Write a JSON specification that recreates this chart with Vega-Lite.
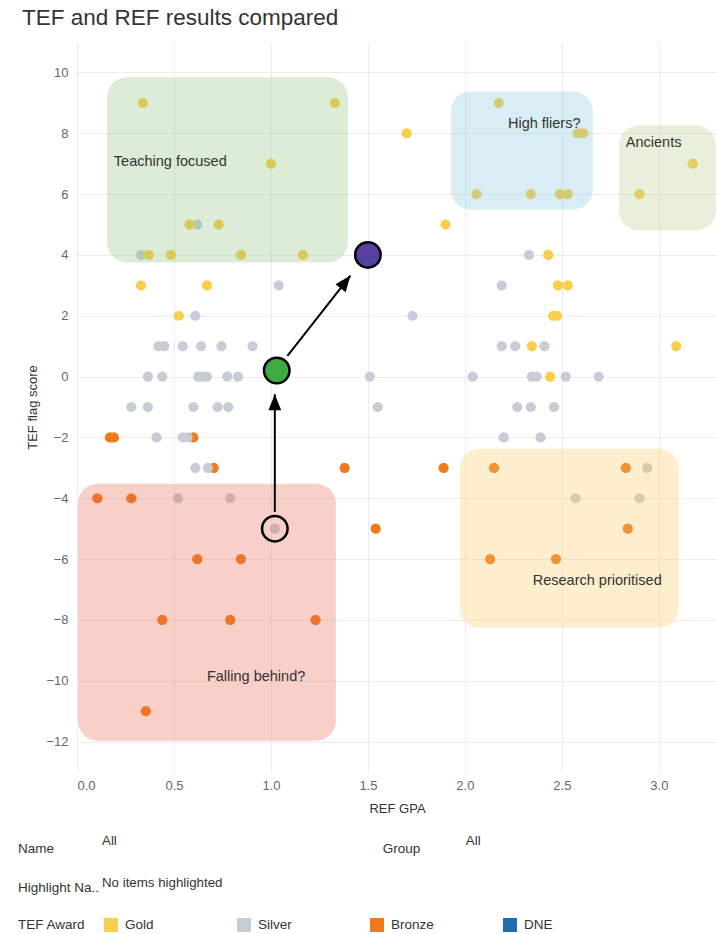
{
  "$schema": "https://vega.github.io/schema/vega-lite/v6.json",
  "width": 640,
  "height": 730,
  "padding": {"left": 18, "top": 6, "right": 0, "bottom": 0},
  "background": "white",
  "title": {"text": "TEF and REF results compared", "anchor": "start", "frame": "bounds", "fontSize": 22.5, "font": "Liberation Sans", "fontWeight": "normal", "color": "#333333", "offset": 13, "dx": 4},
  "config": {"view": {"stroke": null}, "font": "Liberation Sans"},
  "datasets": {
    "institutions": [
      {"gpa": 0.17, "score": -2, "award": "Bronze"},
      {"gpa": 0.19, "score": -2, "award": "Bronze"},
      {"gpa": 0.60, "score": -2, "award": "Bronze"},
      {"gpa": 0.705, "score": -3, "award": "Bronze"},
      {"gpa": 1.38, "score": -3, "award": "Bronze"},
      {"gpa": 1.89, "score": -3, "award": "Bronze"},
      {"gpa": 2.15, "score": -3, "award": "Bronze"},
      {"gpa": 2.83, "score": -3, "award": "Bronze"},
      {"gpa": 0.105, "score": -4, "award": "Bronze"},
      {"gpa": 0.28, "score": -4, "award": "Bronze"},
      {"gpa": 1.54, "score": -5, "award": "Bronze"},
      {"gpa": 2.84, "score": -5, "award": "Bronze"},
      {"gpa": 0.62, "score": -6, "award": "Bronze"},
      {"gpa": 0.845, "score": -6, "award": "Bronze"},
      {"gpa": 2.13, "score": -6, "award": "Bronze"},
      {"gpa": 2.47, "score": -6, "award": "Bronze"},
      {"gpa": 0.44, "score": -8, "award": "Bronze"},
      {"gpa": 0.79, "score": -8, "award": "Bronze"},
      {"gpa": 1.23, "score": -8, "award": "Bronze"},
      {"gpa": 0.355, "score": -11, "award": "Bronze"},
      {"gpa": 0.62, "score": 5, "award": "Silver"},
      {"gpa": 0.33, "score": 4, "award": "Silver"},
      {"gpa": 2.33, "score": 4, "award": "Silver"},
      {"gpa": 1.04, "score": 3, "award": "Silver"},
      {"gpa": 2.19, "score": 3, "award": "Silver"},
      {"gpa": 0.61, "score": 2, "award": "Silver"},
      {"gpa": 1.73, "score": 2, "award": "Silver"},
      {"gpa": 0.42, "score": 1, "award": "Silver"},
      {"gpa": 0.45, "score": 1, "award": "Silver"},
      {"gpa": 0.545, "score": 1, "award": "Silver"},
      {"gpa": 0.64, "score": 1, "award": "Silver"},
      {"gpa": 0.745, "score": 1, "award": "Silver"},
      {"gpa": 0.905, "score": 1, "award": "Silver"},
      {"gpa": 2.19, "score": 1, "award": "Silver"},
      {"gpa": 2.26, "score": 1, "award": "Silver"},
      {"gpa": 2.41, "score": 1, "award": "Silver"},
      {"gpa": 0.365, "score": 0, "award": "Silver"},
      {"gpa": 0.44, "score": 0, "award": "Silver"},
      {"gpa": 0.625, "score": 0, "award": "Silver"},
      {"gpa": 0.645, "score": 0, "award": "Silver"},
      {"gpa": 0.67, "score": 0, "award": "Silver"},
      {"gpa": 0.775, "score": 0, "award": "Silver"},
      {"gpa": 0.83, "score": 0, "award": "Silver"},
      {"gpa": 1.51, "score": 0, "award": "Silver"},
      {"gpa": 2.04, "score": 0, "award": "Silver"},
      {"gpa": 2.345, "score": 0, "award": "Silver"},
      {"gpa": 2.37, "score": 0, "award": "Silver"},
      {"gpa": 2.52, "score": 0, "award": "Silver"},
      {"gpa": 2.69, "score": 0, "award": "Silver"},
      {"gpa": 0.28, "score": -1, "award": "Silver"},
      {"gpa": 0.365, "score": -1, "award": "Silver"},
      {"gpa": 0.60, "score": -1, "award": "Silver"},
      {"gpa": 0.725, "score": -1, "award": "Silver"},
      {"gpa": 0.78, "score": -1, "award": "Silver"},
      {"gpa": 1.55, "score": -1, "award": "Silver"},
      {"gpa": 2.27, "score": -1, "award": "Silver"},
      {"gpa": 2.34, "score": -1, "award": "Silver"},
      {"gpa": 2.46, "score": -1, "award": "Silver"},
      {"gpa": 0.41, "score": -2, "award": "Silver"},
      {"gpa": 0.545, "score": -2, "award": "Silver"},
      {"gpa": 0.57, "score": -2, "award": "Silver"},
      {"gpa": 2.20, "score": -2, "award": "Silver"},
      {"gpa": 2.39, "score": -2, "award": "Silver"},
      {"gpa": 0.61, "score": -3, "award": "Silver"},
      {"gpa": 0.675, "score": -3, "award": "Silver"},
      {"gpa": 2.94, "score": -3, "award": "Silver"},
      {"gpa": 0.52, "score": -4, "award": "Silver"},
      {"gpa": 0.79, "score": -4, "award": "Silver"},
      {"gpa": 2.57, "score": -4, "award": "Silver"},
      {"gpa": 2.90, "score": -4, "award": "Silver"},
      {"gpa": 1.02, "score": -5, "award": "Silver"},
      {"gpa": 0.34, "score": 9, "award": "Gold"},
      {"gpa": 1.33, "score": 9, "award": "Gold"},
      {"gpa": 2.175, "score": 9, "award": "Gold"},
      {"gpa": 1.70, "score": 8, "award": "Gold"},
      {"gpa": 2.58, "score": 8, "award": "Gold"},
      {"gpa": 2.61, "score": 8, "award": "Gold"},
      {"gpa": 1.00, "score": 7, "award": "Gold"},
      {"gpa": 3.175, "score": 7, "award": "Gold"},
      {"gpa": 2.06, "score": 6, "award": "Gold"},
      {"gpa": 2.34, "score": 6, "award": "Gold"},
      {"gpa": 2.49, "score": 6, "award": "Gold"},
      {"gpa": 2.53, "score": 6, "award": "Gold"},
      {"gpa": 2.90, "score": 6, "award": "Gold"},
      {"gpa": 0.58, "score": 5, "award": "Gold"},
      {"gpa": 0.73, "score": 5, "award": "Gold"},
      {"gpa": 1.90, "score": 5, "award": "Gold"},
      {"gpa": 0.37, "score": 4, "award": "Gold"},
      {"gpa": 0.485, "score": 4, "award": "Gold"},
      {"gpa": 0.845, "score": 4, "award": "Gold"},
      {"gpa": 1.165, "score": 4, "award": "Gold"},
      {"gpa": 2.43, "score": 4, "award": "Gold"},
      {"gpa": 0.33, "score": 3, "award": "Gold"},
      {"gpa": 0.67, "score": 3, "award": "Gold"},
      {"gpa": 2.48, "score": 3, "award": "Gold"},
      {"gpa": 2.53, "score": 3, "award": "Gold"},
      {"gpa": 0.525, "score": 2, "award": "Gold"},
      {"gpa": 2.455, "score": 2, "award": "Gold"},
      {"gpa": 2.475, "score": 2, "award": "Gold"},
      {"gpa": 2.345, "score": 1, "award": "Gold"},
      {"gpa": 3.09, "score": 1, "award": "Gold"},
      {"gpa": 2.44, "score": 0, "award": "Gold"}
    ],
    "regions": [
      {"region": "Teaching focused", "x1": 0.155, "x2": 1.397, "y1": 9.84, "y2": 3.75, "lx": 0.19, "ly": 7.07},
      {"region": "High fliers?", "x1": 1.928, "x2": 2.66, "y1": 9.375, "y2": 5.49, "lx": 2.222, "ly": 8.29},
      {"region": "Ancients", "x1": 2.794, "x2": 3.294, "y1": 8.26, "y2": 4.8, "lx": 2.83, "ly": 7.68},
      {"region": "Falling behind?", "x1": 0.005, "x2": 1.335, "y1": -3.52, "y2": -11.97, "lx": 0.67, "ly": -9.88},
      {"region": "Research prioritised", "x1": 1.974, "x2": 3.103, "y1": -2.37, "y2": -8.26, "lx": 2.35, "ly": -6.71}
    ],
    "highlight": [
      {"stage": "Before", "gpa": 1.02, "score": -5},
      {"stage": "Step", "gpa": 1.03, "score": 0.2},
      {"stage": "After", "gpa": 1.5, "score": 4}
    ],
    "arrows": [
      {"arrow": "up", "x": 1.02, "y": -4.45, "x2": 1.02, "y2": -0.58},
      {"arrow": "diag", "x": 1.085, "y": 0.68, "x2": 1.41, "y2": 3.32}
    ],
    "controls": [
      {"label": "Name", "value": "All"},
      {"label": "Group", "value": "All"},
      {"label": "Highlight Na..", "value": "No items highlighted"}
    ]
  },
  "layer": [
    {
      "data": {"name": "institutions"},
      "mark": {"type": "point", "filled": true, "size": 105, "opacity": 1, "strokeWidth": 0},
      "encoding": {
        "x": {
          "field": "gpa", "type": "quantitative",
          "scale": {"domain": [0, 3.3], "nice": false, "zero": false},
          "axis": {"title": "REF GPA", "values": [0, 0.5, 1, 1.5, 2, 2.5, 3], "format": ".1f", "labelFlush": true, "grid": true, "gridColor": "#ececec", "domain": false, "ticks": false, "tickSize": 0, "labelColor": "#666666", "labelFontSize": 13, "labelFont": "Liberation Sans", "titleFont": "Liberation Sans", "titleFontSize": 13, "titleColor": "#333333", "titleFontWeight": "normal", "labelPadding": 7, "titlePadding": 10}
        },
        "y": {
          "field": "score", "type": "quantitative",
          "scale": {"domain": [-13, 11], "nice": false, "zero": false},
          "axis": {"title": "TEF flag score", "values": [-12, -10, -8, -6, -4, -2, 0, 2, 4, 6, 8, 10], "grid": true, "gridColor": "#ececec", "domain": false, "ticks": false, "tickSize": 0, "labelColor": "#666666", "labelFontSize": 13, "labelFont": "Liberation Sans", "titleFont": "Liberation Sans", "titleFontSize": 13, "titleColor": "#333333", "titleFontWeight": "normal", "labelPadding": 9, "titlePadding": 6}
        },
        "color": {
          "field": "award", "type": "nominal",
          "scale": {"domain": ["Gold", "Silver", "Bronze", "DNE"], "range": ["#f7cf4b", "#c7cdd6", "#ef7b1f", "#1f6fb0"]},
          "legend": {"orient": "none", "legendX": -59, "legendY": 876, "direction": "horizontal", "columns": 4, "gridAlign": "all", "columnPadding": 69, "title": "TEF Award", "titleOrient": "left", "titleFontSize": 13.5, "titleFontWeight": "normal", "titleColor": "#333333", "titleFont": "Liberation Sans", "titlePadding": 18, "symbolType": "square", "symbolSize": 196, "symbolStrokeWidth": 0, "symbolOpacity": 1, "labelFontSize": 13.5, "labelColor": "#333333", "labelFont": "Liberation Sans", "labelOffset": 7}
        }
      }
    },
    {
      "data": {"name": "regions"},
      "mark": {"type": "rect", "cornerRadius": 20, "fillOpacity": 0.3},
      "encoding": {
        "x": {"field": "x1", "type": "quantitative"},
        "x2": {"field": "x2"},
        "y": {"field": "y1", "type": "quantitative"},
        "y2": {"field": "y2"},
        "fill": {
          "field": "region", "type": "nominal",
          "scale": {"domain": ["Teaching focused", "High fliers?", "Ancients", "Falling behind?", "Research prioritised"], "range": ["#8ac07a", "#80c3de", "#b2cd8a", "#e86248", "#f8c658"]},
          "legend": null
        }
      }
    },
    {
      "data": {"name": "regions"},
      "mark": {"type": "text", "align": "left", "baseline": "middle", "fontSize": 14.5, "font": "Liberation Sans", "color": "#333333"},
      "encoding": {
        "x": {"field": "lx", "type": "quantitative"},
        "y": {"field": "ly", "type": "quantitative"},
        "text": {"field": "region"}
      }
    },
    {
      "data": {"name": "arrows"},
      "mark": {"type": "rule", "color": "#000000", "strokeWidth": 2},
      "encoding": {
        "x": {"field": "x", "type": "quantitative"},
        "y": {"field": "y", "type": "quantitative"},
        "x2": {"field": "x2"},
        "y2": {"field": "y2"}
      }
    },
    {
      "data": {"name": "arrows"},
      "transform": [{"filter": "datum.arrow === 'up'"}],
      "mark": {"type": "point", "shape": "M0,0L0.8,2L-0.8,2Z", "filled": true, "color": "#000000", "size": 256, "angle": 0, "opacity": 1},
      "encoding": {
        "x": {"field": "x2", "type": "quantitative"},
        "y": {"field": "y2", "type": "quantitative"}
      }
    },
    {
      "data": {"name": "arrows"},
      "transform": [{"filter": "datum.arrow === 'diag'"}],
      "mark": {"type": "point", "shape": "M0,0L0.8,2L-0.8,2Z", "filled": true, "color": "#000000", "size": 256, "angle": 38, "opacity": 1},
      "encoding": {
        "x": {"field": "x2", "type": "quantitative"},
        "y": {"field": "y2", "type": "quantitative"}
      }
    },
    {
      "data": {"name": "highlight"},
      "transform": [{"filter": "datum.stage === 'Before'"}],
      "mark": {"type": "point", "filled": false, "stroke": "#000000", "strokeWidth": 2.5, "size": 650, "opacity": 1},
      "encoding": {
        "x": {"field": "gpa", "type": "quantitative"},
        "y": {"field": "score", "type": "quantitative"}
      }
    },
    {
      "data": {"name": "highlight"},
      "transform": [{"filter": "datum.stage === 'Step'"}],
      "mark": {"type": "point", "shape": "circle", "filled": true, "fill": "#3dab3f", "stroke": "#000000", "strokeWidth": 2.5, "size": 650, "opacity": 1},
      "encoding": {
        "x": {"field": "gpa", "type": "quantitative"},
        "y": {"field": "score", "type": "quantitative"}
      }
    },
    {
      "data": {"name": "highlight"},
      "transform": [{"filter": "datum.stage === 'After'"}],
      "mark": {"type": "point", "shape": "circle", "filled": true, "fill": "#5a3f9f", "stroke": "#000000", "strokeWidth": 2.5, "size": 650, "opacity": 1},
      "encoding": {
        "x": {"field": "gpa", "type": "quantitative"},
        "y": {"field": "score", "type": "quantitative"}
      }
    },
    {
      "data": {"name": "controls"},
      "transform": [{"filter": "datum.label === 'Name'"}],
      "layer": [
        {"mark": {"type": "text", "align": "left", "baseline": "middle", "fontSize": 13.5, "font": "Liberation Sans", "color": "#333333"},
         "encoding": {"x": {"datum": -0.304}, "y": {"datum": -15.53}, "text": {"field": "label"}}},
        {"mark": {"type": "text", "align": "left", "baseline": "middle", "fontSize": 13.3, "font": "Liberation Sans", "color": "#333333"},
         "encoding": {"x": {"datum": 0.129}, "y": {"datum": -15.26}, "text": {"field": "value"}}}
      ]
    },
    {
      "data": {"name": "controls"},
      "transform": [{"filter": "datum.label === 'Group'"}],
      "layer": [
        {"mark": {"type": "text", "align": "left", "baseline": "middle", "fontSize": 13.5, "font": "Liberation Sans", "color": "#333333"},
         "encoding": {"x": {"datum": 1.577}, "y": {"datum": -15.53}, "text": {"field": "label"}}},
        {"mark": {"type": "text", "align": "left", "baseline": "middle", "fontSize": 13.3, "font": "Liberation Sans", "color": "#333333"},
         "encoding": {"x": {"datum": 2.005}, "y": {"datum": -15.26}, "text": {"field": "value"}}}
      ]
    },
    {
      "data": {"name": "controls"},
      "transform": [{"filter": "datum.label === 'Highlight Na..'"}],
      "layer": [
        {"mark": {"type": "text", "align": "left", "baseline": "middle", "fontSize": 13.5, "font": "Liberation Sans", "color": "#333333"},
         "encoding": {"x": {"datum": -0.304}, "y": {"datum": -16.81}, "text": {"field": "label"}}},
        {"mark": {"type": "text", "align": "left", "baseline": "middle", "fontSize": 13.3, "font": "Liberation Sans", "color": "#333333"},
         "encoding": {"x": {"datum": 0.129}, "y": {"datum": -16.64}, "text": {"field": "value"}}}
      ]
    }
  ]
}
